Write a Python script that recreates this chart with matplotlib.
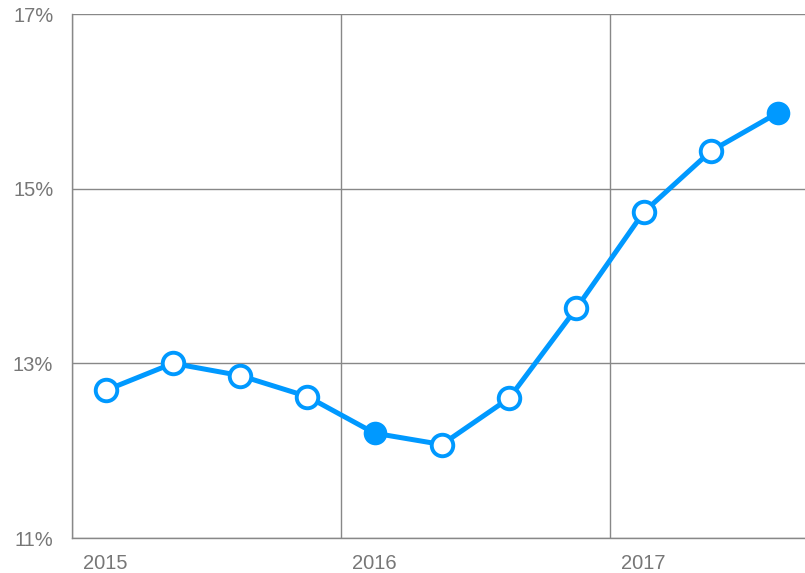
import matplotlib.pyplot as plt
import numpy as np

plt.rcParams['font.family'] = ['Liberation Sans', 'DejaVu Sans']

# quarterly rate, 2015 Q1 .. 2017 Q3
quarters = np.arange(11)
rate = [12.69, 13.00, 12.86, 12.62, 12.20, 12.07, 12.60, 13.63, 14.73, 15.43, 15.87]
filled = [4, 10]
years = ["2015", "2016", "2017"]
year_pos = [0, 4, 8]
y_ticks = [11, 13, 15, 17]

blue = "#0099ff"
grey = "#777777"

fig = plt.figure(figsize=(8.05, 5.73), dpi=100)
ax = fig.add_axes([72 / 805, 1 - 538 / 573, 1 - 72 / 805, (538 - 14) / 573])

ax.plot(quarters, rate, color=blue, lw=3.6, zorder=3, solid_capstyle="round")
hollow = [i for i in quarters if i not in filled]
ax.plot(hollow, [rate[i] for i in hollow], "o", ms=15.5, mfc="white",
        mec=blue, mew=2.8, zorder=4)
ax.plot(filled, [rate[i] for i in filled], "o", ms=17, mfc=blue,
        mec=blue, mew=0, zorder=4)

ax.set_xlim(-0.5, 10.4)
ax.set_ylim(11, 17)

ax.set_xticks(year_pos)
ax.set_xticklabels(years)
ax.set_xticks([-0.5, 3.5, 7.5], minor=True)
ax.set_yticks(y_ticks)
ax.set_yticklabels([f"{v}%" for v in y_ticks])

ax.tick_params(axis="both", which="both", length=0, labelsize=14.5, colors=grey)
ax.tick_params(axis="y", pad=13.5)
ax.tick_params(axis="x", pad=11.5)

ax.grid(True, axis="y", which="major", color="#888888", lw=1)
ax.grid(True, axis="x", which="minor", color="#888888", lw=1)
ax.grid(False, axis="x", which="major")

for s in ["top", "right"]:
    ax.spines[s].set_visible(False)
for s in ["left", "bottom"]:
    ax.spines[s].set_color("#888888")
    ax.spines[s].set_linewidth(1)

fig.savefig("out.png", dpi=100)
